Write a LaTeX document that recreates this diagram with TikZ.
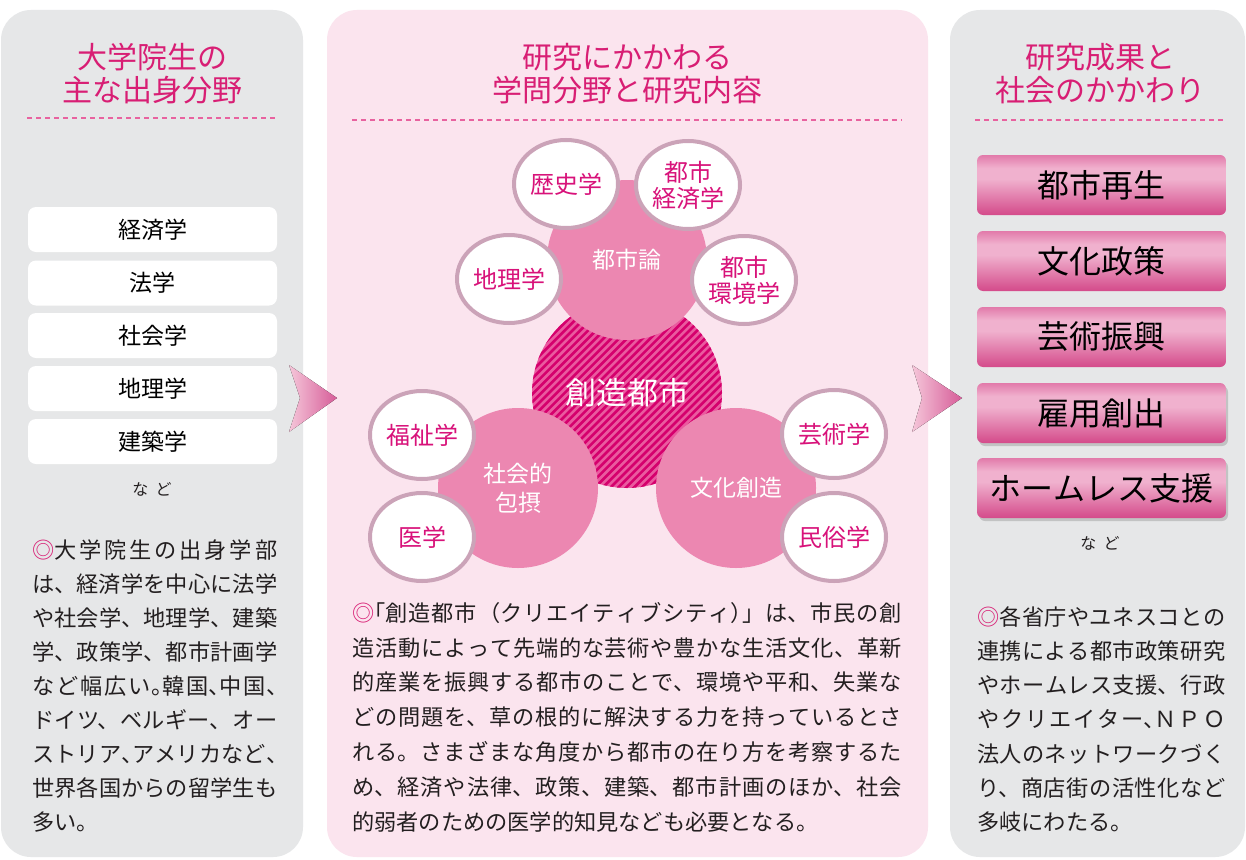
\documentclass[tikz,border=0pt]{standalone}
\usepackage{fontspec}
\setmainfont{Noto Sans CJK JP}
\usetikzlibrary{shapes.geometric,shadows}
\XeTeXlinebreaklocale "ja"
\XeTeXlinebreakskip=0pt plus 6pt
\setlength\parindent{0pt}
\definecolor{panelgray}{HTML}{E6E7E8}
\definecolor{panelpink}{HTML}{FBE4EE}
\definecolor{titlepink}{HTML}{D81E74}
\definecolor{dashpink}{HTML}{E8629F}
\definecolor{midpink}{HTML}{EC87B1}
\definecolor{hatchbg}{HTML}{EA5A9F}
\definecolor{hatchline}{HTML}{D5006D}
\definecolor{ringcol}{HTML}{CBA3B8}
\definecolor{sattext}{HTML}{D8127A}
\definecolor{boxtop}{HTML}{E27AAA}
\definecolor{boxmid}{HTML}{F0B1CE}
\definecolor{boxbot}{HTML}{D44A8A}
\definecolor{arrowlight}{HTML}{F5C6D9}
\definecolor{arrowdark}{HTML}{D65C98}
\definecolor{bodyink}{HTML}{231F20}
\pgfdeclareverticalshading{boxshade}{100bp}{color(0bp)=(boxbot); color(25bp)=(boxbot); color(55bp)=(boxmid); color(64bp)=(boxmid); color(75bp)=(boxtop); color(100bp)=(boxtop)}
\newcommand\hwl[1]{\makebox[0.5em][l]{#1}}
\newcommand\hwr[1]{\makebox[0.5em][r]{#1}}
\newcommand\mk{\textcolor{titlepink}{◎}}
\newcommand\nl{\linebreak}
\tikzset{
  paneltitle/.style={text=titlepink, align=center, inner sep=0pt, font=\fontsize{30}{33}\selectfont},
  dashline/.style={draw=dashpink, line width=1.2pt, dash pattern=on 5pt off 4pt},
  fieldbox/.style={fill=white, rounded corners=8pt, minimum width=249pt, minimum height=45pt, inner sep=0pt, text=black, font=\fontsize{23}{26}\selectfont},
  nado/.style={inner sep=0pt, text=bodyink, font=\fontsize{16}{18}\selectfont},
  bodytext/.style={anchor=north west, inner sep=0pt, align=justify, text=bodyink},
  midcircle/.style={circle, fill=midpink, minimum size=160pt, inner sep=0pt, text=white, align=center, font=\fontsize{23}{29}\selectfont},
  satellite/.style={ellipse, draw=ringcol, line width=4pt, fill=white, minimum width=104pt, minimum height=88pt, inner sep=0pt, text=sattext, align=center, font=\fontsize{24}{26}\selectfont},
  resultbox/.style={shading=boxshade, rounded corners=6pt, minimum width=249pt, minimum height=60pt, inner sep=0pt, text=black, font=\fontsize{32}{36}\selectfont},
  boxshadow/.style={drop shadow={opacity=0.35, shadow xshift=2pt, shadow yshift=-3pt}},
  arrowshape/.style={left color=arrowlight, right color=arrowdark, draw=none}
}
\begin{document}
\begin{tikzpicture}[x=1pt,y=-1pt]
\useasboundingbox (0,0) rectangle (1246,859);
\fill[white] (0,0) rectangle (1246,859);
% panels
\fill[panelgray, rounded corners=30pt] (1,10) rectangle (303,857);
\fill[panelpink, rounded corners=30pt] (327,10) rectangle (928,857);
\fill[panelgray, rounded corners=30pt] (950,10) rectangle (1245,857);
% titles
\node[paneltitle] (t1) at (152,74) {大学院生の\\主な出身分野};
\node[paneltitle] (t2) at (627,74) {研究にかかわる\\学問分野と研究内容};
\node[paneltitle] (t3) at (1100,74) {研究成果と\\社会のかかわり};
\draw[dashline] (27,118) -- (278,118);
\draw[dashline] (352,120) -- (902,120);
\draw[dashline] (975,120) -- (1226,120);
% left boxes
\node[fieldbox] (f1) at (152.5,229.5) {経済学};
\node[fieldbox] (f2) at (152.5,283) {法学};
\node[fieldbox] (f3) at (152.5,335.5) {社会学};
\node[fieldbox] (f4) at (152.5,388.5) {地理学};
\node[fieldbox] (f5) at (152.5,441.5) {建築学};
\node[nado] (n1) at (152,489) {な\hspace{0.45em}ど};
% left body
\node[bodytext, text width=245pt, font=\fontsize{22.2}{34}\selectfont] (b1) at (32,540) {%
\mk 大学院生の出身学部\nl
は、経済学を中心に法学\nl
や社会学、地理学、建築\nl
学、政策学、都市計画学\nl
など幅広い\hwl{。}韓国\hwl{、}中国\hwl{、}\nl
ドイツ、ベルギー、オー\nl
ストリア\hwl{、}アメリカなど\hwl{、}\nl
世界各国からの留学生も\nl
多い。};
% arrows
\fill[arrowshape] (289,365) -- (337,398) -- (289,432) -- (300,398) -- cycle;
\fill[arrowshape] (912,365) -- (962,398) -- (912,432) -- (922,398) -- cycle;
% central diagram
\node[circle, fill=hatchbg, minimum size=190pt, inner sep=0pt, text=white, font=\fontsize{31}{34}\selectfont,
  path picture={\foreach \k in {-19,...,19}{\draw[hatchline, line width=2.6pt] ([xshift=\k*7.8pt-120pt, yshift=-120pt]path picture bounding box.center) -- ++(240pt,240pt);}}]
  (core) at (627,393) {創造都市};
\node[midcircle] (toshi) at (627,260) {都市論};
\node[midcircle] (shakai) at (518,488) {社会的\\包摂};
\node[midcircle] (bunka) at (736,488) {文化創造};
\node[satellite] (rekishi) at (566,184) {歴史学};
\node[satellite] (keizai) at (688,185) {都市\\経済学};
\node[satellite] (chiri) at (509,279) {地理学};
\node[satellite] (kankyo) at (744,280) {都市\\環境学};
\node[satellite] (fukushi) at (422,435) {福祉学};
\node[satellite] (igaku) at (422,537) {医学};
\node[satellite] (geijutsu) at (834,434) {芸術学};
\node[satellite] (minzoku) at (834,537) {民俗学};
% middle body
\node[bodytext, text width=550pt, font=\fontsize{22.2}{34.8}\selectfont] (b2) at (352,602) {%
\mk\hwr{「}創造都市（クリエイティブシティ\hwl{）}」は、市民の創\nl
造活動によって先端的な芸術や豊かな生活文化、革新\nl
的産業を振興する都市のことで、環境や平和、失業な\nl
どの問題を、草の根的に解決する力を持っているとさ\nl
れる。さまざまな角度から都市の在り方を考察するた\nl
め、経済や法律、政策、建築、都市計画のほか、社会\nl
的弱者のための医学的知見なども必要となる。};
% right boxes
\node[resultbox] (r1) at (1101.5,185) {都市再生};
\node[resultbox] (r2) at (1101.5,261) {文化政策};
\node[resultbox] (r3) at (1101.5,337) {芸術振興};
\node[resultbox, boxshadow] (r4) at (1101.5,413) {雇用創出};
\node[resultbox, boxshadow] (r5) at (1101.5,488) {ホームレス支援};
\node[nado] (n2) at (1100,543) {な\hspace{0.45em}ど};
% right body
\node[bodytext, text width=248pt, font=\fontsize{22.2}{34.3}\selectfont] (b3) at (977,606) {%
\mk 各省庁やユネスコとの\nl
連携による都市政策研究\nl
やホームレス支援、行政\nl
やクリエイター\hwl{、}ＮＰＯ\nl
法人のネットワークづく\nl
り、商店街の活性化など\nl
多岐にわたる。};
\end{tikzpicture}
\end{document}
